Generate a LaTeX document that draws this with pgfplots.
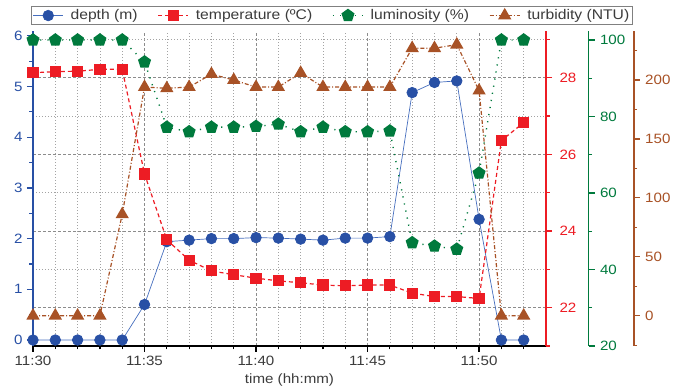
\documentclass[border=0pt]{standalone}
\usepackage{fontspec}
\setmainfont{Liberation Sans}[FakeStretch=1.12]
\usepackage{pgfplots}
\pgfplotsset{compat=1.18}
\definecolor{dblue}{RGB}{40,80,165}
\definecolor{lnblue}{RGB}{70,110,190}
\definecolor{tred}{RGB}{237,28,36}
\definecolor{lgreen}{RGB}{0,122,61}
\definecolor{tbrown}{RGB}{168,82,38}
\definecolor{gridgray}{RGB}{140,140,140}
\definecolor{txtgray}{RGB}{60,60,60}
\newcommand{\fs}{\fontsize{13.5}{15}\selectfont}
\newcommand{\fl}{\fontsize{14}{16}\selectfont}
\pgfplotsset{
  base/.style={scale only axis, width=513pt, height=315pt, at={(0pt,0pt)}, anchor=south west,
    xmin=0, xmax=23, /pgf/number format/assume math mode=true,
    tick label style={font=\fs}, major tick length=6pt, minor tick length=3.5pt, tick align=outside,
    x axis line style={-}, y axis line style={-}},
  depthstyle/.style={lnblue, line width=0.7pt, mark=*, mark size=5.3pt, mark options={solid, fill=dblue, draw=dblue}},
  tempstyle/.style={tred, line width=1.2pt, dash pattern=on 4pt off 3pt, mark=square*, mark size=5pt, mark options={solid, fill=tred}},
  lumstyle/.style={lgreen, line width=1.4pt, dash pattern=on 1.2pt off 6pt, mark=pentagon*, mark size=6pt, mark options={solid, fill=lgreen}},
  turbstyle/.style={tbrown, line width=1.2pt, dash pattern=on 4pt off 2pt on 1pt off 2pt, mark=triangle*, mark size=6.5pt, mark options={solid, fill=tbrown}},
}
\begin{document}
\begin{tikzpicture}
\path[use as bounding box] (-33pt,-41pt) rectangle (651pt,346pt);
% grid axis
\begin{axis}[base, ymin=21, ymax=29.22,
  xtick={5,10,15,20}, minor xtick={1,2,3,4,6,7,8,9,11,12,13,14,16,17,18,19,21,22},
  ytick={22,24,26,28}, minor ytick={23,25,27,29},
  xmajorgrids, xminorgrids, ymajorgrids, yminorgrids,
  major grid style={gridgray, line width=0.6pt, dash pattern=on 3pt off 2pt},
  minor grid style={gridgray!80, line width=0.6pt, dash pattern=on 1pt off 2pt},
  xticklabels={}, yticklabels={}, axis line style={draw=none}, tick style={draw=none}]
\addplot[draw=none] coordinates {(1,25)};
\end{axis}
% depth axis
\begin{axis}[base, ymin=-0.118, ymax=6.095, axis x line*=bottom, axis y line*=left,
  xtick={0,5,10,15,20}, xticklabels={11:30,11:35,11:40,11:45,11:50}, minor xtick={1,...,22},
  ytick={0,...,6}, minor ytick={0.5,1.5,...,5.5},
  x axis line style={black, line width=1.8pt}, y axis line style={dblue, line width=1.8pt},
  xtick style={black, line width=1.2pt}, ytick style={dblue, line width=1.2pt},
  xticklabel style={txtgray, yshift=-1pt}, yticklabel style={dblue, xshift=-1pt},
  xlabel={time (hh:mm)}, xlabel style={font=\fs, txtgray, yshift=-1pt},
  clip=false]
\addplot[depthstyle] coordinates {
(0,0) (1,0) (2,0) (3,0) (4,0) (5,0.7) (6,1.94) (7,1.97) (8,2.0) (9,2.0) (10,2.02)
(11,2.01) (12,1.99) (13,1.97) (14,2.01) (15,2.01) (16,2.04) (17,4.88) (18,5.08)
(19,5.11) (20,2.38) (21,0) (22,0)};
\end{axis}
% temperature
\begin{axis}[base, ymin=21, ymax=29.22, axis x line=none, axis y line*=right,
  ytick={22,24,26,28}, minor ytick={21,23,25,27,29},
  y axis line style={tred, line width=1.8pt}, ytick style={tred, line width=1.2pt},
  yticklabel style={tred, xshift=4pt}, clip=false]
\addplot[tempstyle] coordinates {
(0,28.13) (1,28.16) (2,28.17) (3,28.22) (4,28.22) (5,25.49) (6,23.77) (7,23.24)
(8,22.96) (9,22.86) (10,22.77) (11,22.70) (12,22.65) (13,22.59) (14,22.57) (15,22.59)
(16,22.59) (17,22.38) (18,22.29) (19,22.29) (20,22.24) (21,26.36) (22,26.83)};
\end{axis}
% luminosity data
\begin{axis}[base, ymin=20, ymax=102.35, hide axis, clip=false]
\addplot[lumstyle] coordinates {
(0,100) (1,100) (2,100) (3,100) (4,100) (5,94.25) (6,77.2) (7,76.0) (8,77.2) (9,77.2)
(10,77.4) (11,78.0) (12,76.0) (13,77.2) (14,76.0) (15,76.0) (16,76.2) (17,47.0)
(18,46.1) (19,45.3) (20,65.2) (21,100) (22,100)};
\end{axis}
% luminosity scale
\begin{axis}[base, width=10pt, at={(555.5pt,0pt)}, anchor=south east, xmin=0, xmax=1,
  ymin=20, ymax=102.35, axis x line=none, axis y line*=right,
  ytick={20,40,...,100}, minor ytick={30,50,70,90},
  y axis line style={lgreen, line width=1.8pt}, ytick style={lgreen, line width=1.2pt},
  yticklabel style={lgreen, xshift=2pt}]
\addplot[draw=none] coordinates {(0.5,50)};
\end{axis}
% turbidity data + legend
\begin{axis}[base, ymin=-25.7, ymax=241.6, hide axis, clip=false,
  legend columns=4,
  legend style={at={(0.583,1.049)}, anchor=center, draw=gray, line width=0.8pt, fill=white,
    font=\fl, text=txtgray, inner sep=1.5pt,
    /tikz/every odd column/.append style={column sep=5pt},
    /tikz/every even column/.append style={column sep=18pt}},
  legend image code/.code={\draw[mark repeat=2, mark phase=2] plot coordinates {(0pt,0pt) (15pt,0pt) (30pt,0pt)};}]
\addlegendimage{depthstyle}
\addlegendentry{depth (m)}
\addlegendimage{tempstyle}
\addlegendentry{temperature (ºC)}
\addlegendimage{lumstyle}
\addlegendentry{luminosity (\%)}
\addplot[turbstyle] coordinates {
(0,0) (1,0) (2,0) (3,0) (4,86) (5,194) (6,193) (7,194) (8,205) (9,200) (10,194)
(11,194) (12,206) (13,194) (14,194) (15,194) (16,194) (17,227) (18,227) (19,230)
(20,191) (21,0) (22,0)};
\addlegendentry{turbidity (NTU)}
\end{axis}
% turbidity scale
\begin{axis}[base, width=10pt, at={(600.7pt,0pt)}, anchor=south east, xmin=0, xmax=1,
  ymin=-25.7, ymax=241.6, axis x line=none, axis y line*=right,
  ytick={0,50,...,200}, minor ytick={-25,25,75,125,175,225},
  y axis line style={tbrown, line width=1.8pt}, ytick style={tbrown, line width=1.2pt},
  yticklabel style={tbrown, xshift=2pt}]
\addplot[draw=none] coordinates {(0.5,50)};
\end{axis}
\end{tikzpicture}
\end{document}
